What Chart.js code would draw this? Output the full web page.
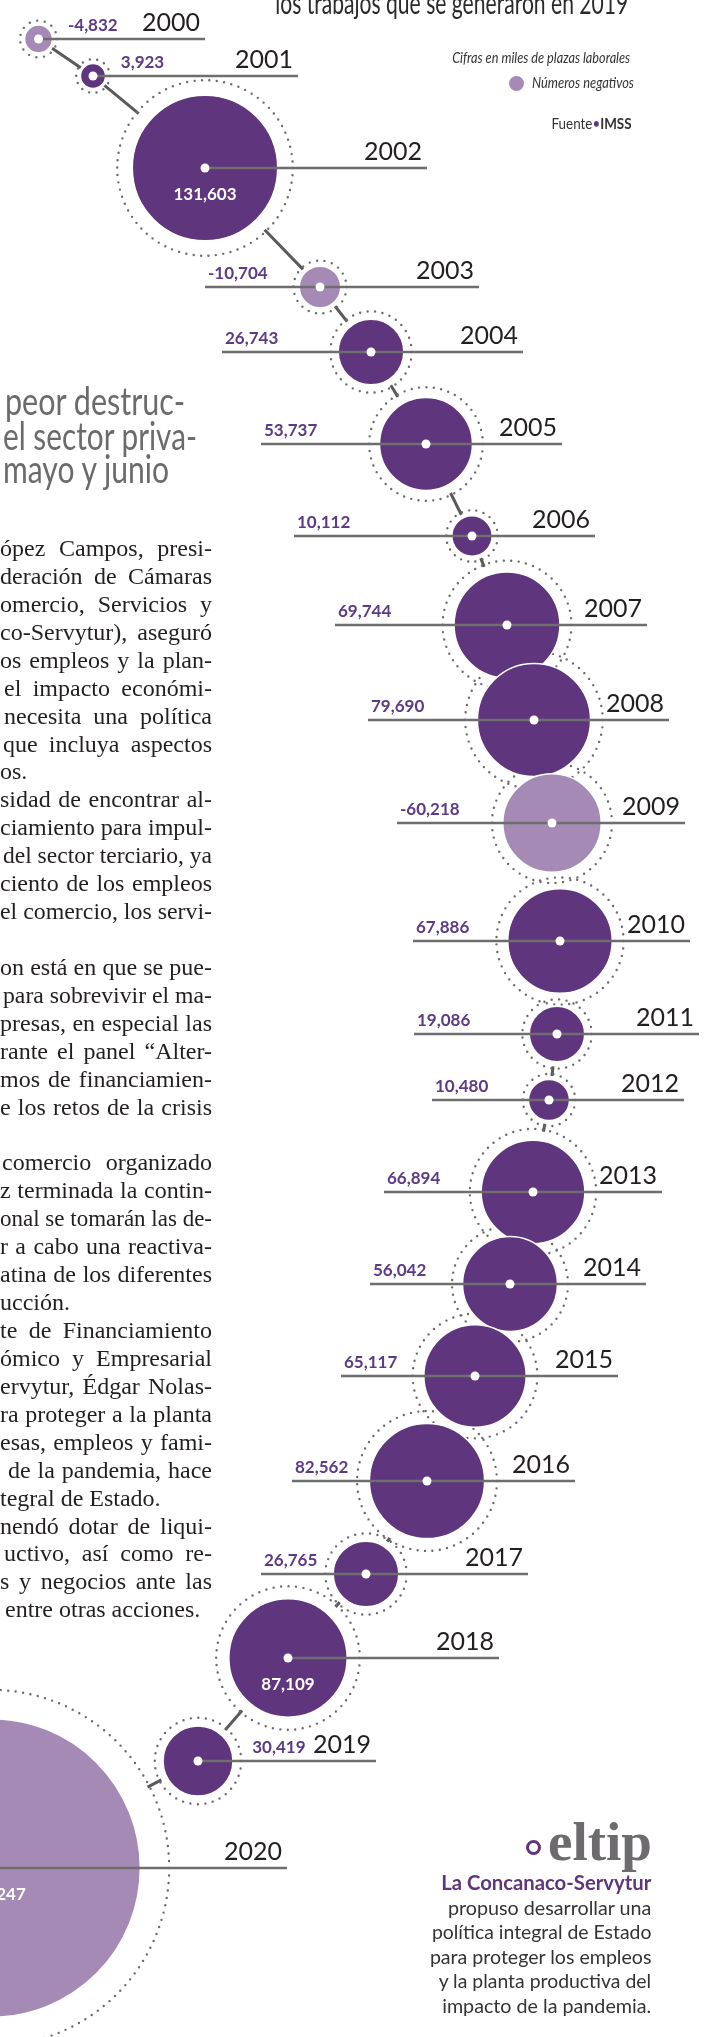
<!DOCTYPE html>
<html lang="es">
<head>
<meta charset="utf-8">
<title>Empleos IMSS 2000-2020</title>
<script src="https://cdn.jsdelivr.net/npm/chart.js@4.4.1/dist/chart.umd.min.js"></script>
<style>
  html, body { margin: 0; padding: 0; background: #fff; }
  body { width: 709px; height: 2037px; position: relative; overflow: hidden; }
  #wrap { position: absolute; left: 0; top: 0; width: 709px; height: 2037px; }
  .txt { position: absolute; white-space: nowrap; line-height: 1; }
  .bl { display: inline-block; width: 0; height: 0; }
  .dot { position: absolute; border-radius: 50%; box-sizing: border-box; }
</style>
</head>
<body>
<div id="wrap"><canvas id="bubbleChart"></canvas></div>
<script>
// Datos: generación de empleo formal (IMSS), miles de plazas
const years = ['2000', '2001', '2002', '2003', '2004', '2005', '2006', '2007', '2008', '2009', '2010',
               '2011', '2012', '2013', '2014', '2015', '2016', '2017', '2018', '2019', '2020'];
const jobs = [-4832, 3923, 131603, -10704, 26743, 53737, 10112, 69744, 79690, -60218, 67886,
              19086, 10480, 66894, 56042, 65117, 82562, 26765, 87109, 30419, -555247];

// Trazo de la "cadena" de burbujas (posiciones de maqueta, en px de la página)
const pathX = [38.5, 93, 205, 320, 371, 426, 472, 507, 534, 552, 560, 557, 549, 533, 510, 475, 427, 366, 288, 198, -9];
const pathY = [39, 76, 168, 287, 352, 444, 536, 625, 720, 823, 941, 1034, 1100, 1192, 1284, 1376, 1481, 1574, 1658, 1761, 1868];
const lineLeft = [null, null, null, 205, 222, 261, 294, 335, 368, 397, 413, 414, 432, 384, 370, 341, 292, 261, null, null, null];
const lineRight = [205, 298, 427, 479, 523, 562, 595, 647, 669, 685, 690, 699, 684, 662, 646, 618, 575, 528, 499, 376, 287];
const labelMode = ['right', 'right', 'inside', 'left', 'left', 'left', 'left', 'left', 'left', 'left', 'left',
                   'left', 'left', 'left', 'left', 'left', 'left', 'left', 'inside', 'right', 'inside'];

const DARK = '#5f367e';
const LIGHT = '#a48ab4';
const PURPLE_TXT = '#5c3a86';

const fmt = new Intl.NumberFormat('en-US');
function bubbleR(v) { return 0.2004 * Math.sqrt(Math.abs(v)); }
function ringR(r) { return r * 1.18 + 2; }

const wrap = document.getElementById('wrap');

// texto real en HTML, colocado por línea base
function addText(o) {
    const d = document.createElement('div');
    d.className = 'txt';
    d.style.font = o.font;
    d.style.color = o.color || '#231f20';
    d.innerHTML = o.html + '<i class="bl"></i>';
    wrap.appendChild(d);
    const w = d.getBoundingClientRect().width;
    const base = d.querySelector('.bl').offsetTop;
    d.style.top = (o.y - base) + 'px';
    if (o.right !== undefined) {
        // línea justificada
        const target = o.right - o.x;
        const gaps = (o.html.match(/ /g) || []).length;
        d.style.left = o.x + 'px';
        if (w > target) {
            d.style.transformOrigin = 'left top';
            d.style.transform = 'scaleX(' + (target / w) + ')';
        } else if (o.justify && gaps) {
            d.style.wordSpacing = ((target - w) / gaps) + 'px';
        }
        return;
    }
    const k = o.w ? o.w / w : 1;
    if (o.align === 'right') {
        d.style.left = (o.x - w) + 'px';
        d.style.transformOrigin = 'right top';
    } else {
        d.style.left = o.x + 'px';
        d.style.transformOrigin = 'left top';
    }
    d.style.transform = 'scaleX(' + k + ')';
}

// --- Encabezado, leyenda, fuente ---
addText({ html: 'los trabajos que se generaron en 2019', font: '30px Lato', x: 628, y: 13.5, align: 'right', w: 353, color: '#2b2a2a' });
addText({ html: 'Cifras en miles de plazas laborales', font: 'italic 15px Lato', x: 630, y: 62.5, align: 'right', w: 178, color: '#333' });
addText({ html: 'Números negativos', font: 'italic 15px Lato', x: 532, y: 87.5, align: 'left', w: 102, color: '#333' });
addText({ html: 'Fuente<span style="color:' + DARK + '">•</span><b>IMSS</b>', font: '15px Lato', x: 632, y: 128.5, align: 'right', w: 80, color: '#333' });

const legendDot = document.createElement('div');
legendDot.className = 'dot';
legendDot.style.cssText += 'left:509px;top:75.5px;width:15px;height:15px;background:' + LIGHT + ';';
wrap.appendChild(legendDot);

// --- Titular recortado de la nota ---
addText({ html: 'peor destruc-', font: '39px Lato', x: 5, y: 415, align: 'left', w: 180, color: '#6b6b6b' });
addText({ html: 'el sector priva-', font: '39px Lato', x: 2.7, y: 449.5, align: 'left', w: 194, color: '#6b6b6b' });
addText({ html: 'mayo y junio', font: '39px Lato', x: 3.3, y: 483, align: 'left', w: 166, color: '#6b6b6b' });

// --- Cuerpo de la nota (columna cortada a la izquierda) ---
const bodyLines = [
    ['ópez Campos, presi-', 0, true],
    ['deración de Cámaras', 0, true],
    ['omercio, Servicios y', 0, true],
    ['co-Servytur), aseguró', 0, true],
    ['os empleos y la plan-', 0, true],
    ['el impacto económi-', 4, true],
    ['necesita una política', 4, true],
    ['que incluya aspectos', 3, true],
    ['os.', 0, false],
    ['sidad de encontrar al-', 0, true],
    ['ciamiento para impul-', 0, true],
    ['del sector terciario, ya', 3, true],
    ['ciento de los empleos', 0, true],
    ['el comercio, los servi-', 0, true],
    null,
    ['on está en que se pue-', 0, true],
    ['para sobrevivir el ma-', 3, true],
    ['presas, en especial las', 0, true],
    ['rante el panel “Alter-', 0, true],
    ['mos de financiamien-', 0, true],
    ['e los retos de la crisis', 0, true],
    null,
    ['comercio organizado', 2, true],
    ['z terminada la contin-', 0, true],
    ['onal se tomarán las de-', 0, true],
    ['r a cabo una reactiva-', 0, true],
    ['atina de los diferentes', 0, true],
    ['ucción.', 0, false],
    ['te de Financiamiento', 0, true],
    ['ómico y Empresarial', 0, true],
    ['ervytur, Édgar Nolas-', 0, true],
    ['ra proteger a la planta', 0, true],
    ['esas, empleos y fami-', 0, true],
    ['de la pandemia, hace', 8, true],
    ['tegral de Estado.', 0, false],
    ['nendó dotar de liqui-', 0, true],
    ['uctivo, así como re-', 4, true],
    ['s y negocios ante las', 0, true],
    ['entre otras acciones.', 5, false]
];
bodyLines.forEach((ln, i) => {
    if (!ln) return;
    addText({ html: ln[0], font: '24px "Liberation Serif"', x: ln[1], y: 556 + 27.93 * i,
              right: ln[2] ? 212 : 999, justify: ln[2], color: '#231f20' });
});

// --- Recuadro "el tip" ---
const tipO = document.createElement('div');
tipO.className = 'dot';
tipO.style.cssText += 'left:525.5px;top:1840px;width:15px;height:15px;border:3.5px solid ' + DARK + ';';
wrap.appendChild(tipO);
addText({ html: 'eltip', font: 'bold 55px "Liberation Serif"', x: 547.5, y: 1860, align: 'left', w: 104, color: '#6d6b6e' });
addText({ html: 'La Concanaco-Servytur', font: 'bold 20px Lato', x: 651.5, y: 1890, align: 'right', w: 210, color: DARK });
const tipLines = [
    ['propuso desarrollar una', 203.5],
    ['política integral de Estado', 219.5],
    ['para proteger los empleos', 221.5],
    ['y la planta productiva del', 212.5],
    ['impacto de la pandemia.', 209]
];
tipLines.forEach((t, i) => {
    addText({ html: t[0], font: '20px Lato', x: 651.5, y: 1914.5 + 24.5 * i, align: 'right', w: t[1], color: '#333' });
});

// --- Gráfico de burbujas ---
const chainPlugin = {
    id: 'chainPlugin',
    beforeDatasetsDraw(chart) {
        const { ctx } = chart;
        const sx = chart.scales.x, sy = chart.scales.y;
        const pts = years.map((yr, i) => ({ x: sx.getPixelForValue(pathX[i]), y: sy.getPixelForValue(pathY[i]), r: bubbleR(jobs[i]) }));
        ctx.save();
        // conectores entre anillos
        ctx.strokeStyle = '#5a5a5a';
        ctx.lineWidth = 3;
        for (let i = 0; i < pts.length - 1; i++) {
            const a = pts[i], b = pts[i + 1];
            const dx = b.x - a.x, dy = b.y - a.y, d = Math.hypot(dx, dy);
            const ra = ringR(a.r) - 2, rb = ringR(b.r) - 2;
            if (d <= ra + rb) continue;
            const ux = dx / d, uy = dy / d;
            ctx.beginPath();
            ctx.moveTo(a.x + ux * ra, a.y + uy * ra);
            ctx.lineTo(b.x - ux * rb, b.y - uy * rb);
            ctx.stroke();
        }
        // anillos punteados
        ctx.strokeStyle = '#6b6b6b';
        ctx.lineWidth = 2.4;
        ctx.lineCap = 'round';
        pts.forEach(p => {
            const rr = ringR(p.r);
            const n = Math.max(10, Math.round(2 * Math.PI * rr / 7.5));
            ctx.setLineDash([0, 2 * Math.PI * rr / n]);
            ctx.beginPath();
            ctx.arc(p.x, p.y, rr, 0, Math.PI * 2);
            ctx.stroke();
        });
        ctx.restore();
    },
    afterDatasetsDraw(chart) {
        const { ctx } = chart;
        const sx = chart.scales.x, sy = chart.scales.y;
        ctx.save();
        years.forEach((yr, i) => {
            const cx = sx.getPixelForValue(pathX[i]);
            const cy = sy.getPixelForValue(pathY[i]);
            const r = bubbleR(jobs[i]);
            const x0 = lineLeft[i] === null ? cx : sx.getPixelForValue(lineLeft[i]);
            const x1 = sx.getPixelForValue(lineRight[i]);

            // guía horizontal
            ctx.strokeStyle = '#6e6e6e';
            ctx.lineWidth = 2.5;
            ctx.beginPath();
            ctx.moveTo(x0, cy);
            ctx.lineTo(x1, cy);
            ctx.stroke();

            // punto blanco central
            ctx.fillStyle = '#fff';
            ctx.beginPath();
            ctx.arc(cx, cy, 4.5, 0, Math.PI * 2);
            ctx.fill();

            // año
            ctx.fillStyle = '#231f20';
            ctx.font = '25px Lato';
            ctx.textAlign = 'right';
            ctx.textBaseline = 'alphabetic';
            ctx.fillText(yr, x1 - 5, cy - 8);

            // valor
            const txt = fmt.format(jobs[i]);
            ctx.font = 'bold 17px Lato';
            if (labelMode[i] === 'left') {
                ctx.fillStyle = PURPLE_TXT;
                ctx.textAlign = 'left';
                ctx.fillText(txt, x0 + 3, cy - 8);
            } else if (labelMode[i] === 'right') {
                ctx.fillStyle = PURPLE_TXT;
                ctx.textAlign = 'left';
                ctx.fillText(txt, cx + ringR(r) + 11, cy - 8);
            } else {
                ctx.fillStyle = '#fff';
                ctx.textAlign = 'center';
                ctx.textBaseline = 'middle';
                ctx.fillText(txt, cx, cy + 27);
            }
        });
        ctx.restore();
    }
};

new Chart(document.getElementById('bubbleChart'), {
    type: 'bubble',
    data: {
        datasets: [{
            label: 'Empleos',
            data: years.map((yr, i) => ({ x: pathX[i], y: pathY[i], r: bubbleR(jobs[i]) })),
            backgroundColor: jobs.map(v => v < 0 ? LIGHT : DARK),
            borderColor: '#fff',
            borderWidth: 1.5,
            hoverRadius: 0,
            clip: false
        }]
    },
    options: {
        responsive: true,
        maintainAspectRatio: false,
        animation: false,
        events: [],
        layout: { padding: 0, autoPadding: false },
        scales: {
            x: { type: 'linear', min: 0, max: 709, display: false },
            y: { type: 'linear', min: 0, max: 2037, reverse: true, display: false }
        },
        plugins: {
            legend: { display: false },
            tooltip: { enabled: false }
        }
    },
    plugins: [chainPlugin]
});
</script>
</body>
</html>
